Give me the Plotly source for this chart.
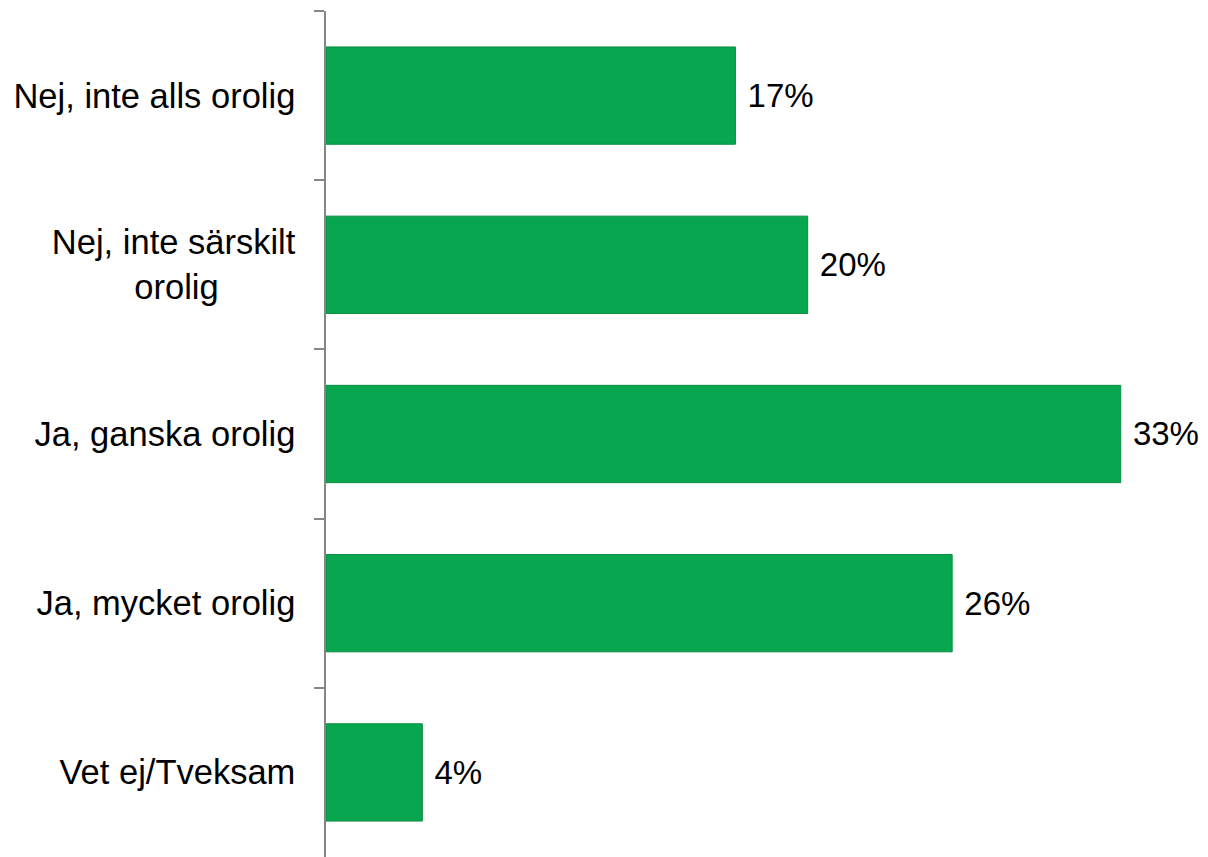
import plotly.graph_objects as go

kategorier = ["Nej, inte alls orolig",
              "Nej, inte särskilt<br>orolig" + "\u00a0" * 8,
              "Ja, ganska orolig",
              "Ja, mycket orolig",
              "Vet ej/Tveksam"]
andelar = [17, 20, 33, 26, 4]

fig = go.Figure(go.Bar(
    x=andelar,
    y=kategorier,
    orientation='h',
    marker=dict(color='#09A650', line=dict(color='#0B8C44', width=1)),
    texttemplate=' %{x}%',
    textposition='outside',
    textfont=dict(size=33, color='black'),
    constraintext='none',
    cliponaxis=False,
))

# sidans body har 8px marginal, därför 1200x849
fig.update_layout(
    width=1200, height=849,
    margin=dict(l=318, r=15, t=3, b=0),
    plot_bgcolor='white',
    paper_bgcolor='white',
    font=dict(family='Liberation Sans, Arial', size=34.5, color='black'),
    bargap=0.425,
    showlegend=False,
)
fig.update_xaxes(range=[0, 36], visible=False, automargin=False)
fig.update_yaxes(autorange='reversed', automargin=False,
                 showline=True, linecolor='#868686', linewidth=1.5,
                 ticks='outside', tickson='boundaries', ticklen=10,
                 tickcolor='#868686', tickwidth=1.5,
                 ticklabelstandoff=22,
                 showgrid=False)

fig.write_html("out.html",
               post_script="document.body.style.overflow='hidden';")
